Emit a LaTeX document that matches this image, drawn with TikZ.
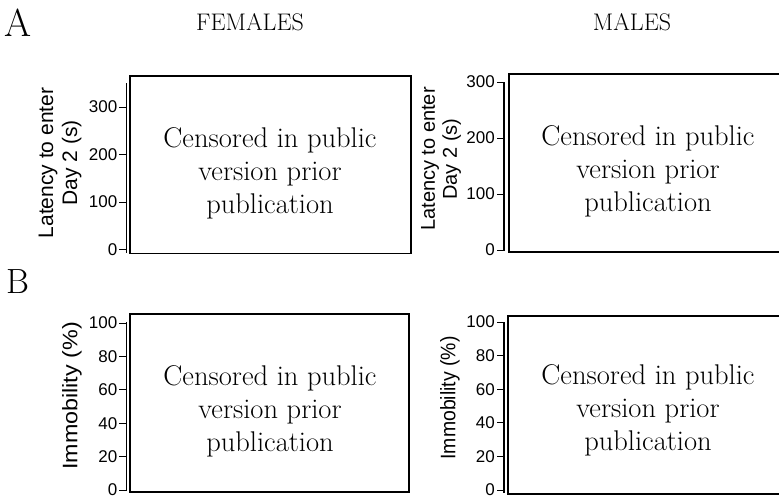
\documentclass[tikz,border=0pt]{standalone}
\usepackage{fontspec}
\newfontfamily\axisfont{Liberation Sans}
\begin{document}
\begin{tikzpicture}[x=1pt,y=-1pt,
  frame/.style={draw=black, line width=1.6pt, fill=none, inner sep=0pt, anchor=north west},
  axisline/.style={draw=black, line width=1.1pt},
  tickline/.style={draw=black, line width=0.9pt},
  ticklabel/.style={font=\axisfont\fontsize{17}{18}\selectfont, anchor=east, inner sep=0pt},
  ylabel/.style={rotate=90, align=center, inner sep=0pt},
  censor/.style={font=\fontsize{28.5}{33}\selectfont, align=center, inner sep=0pt},
  heading/.style={font=\fontsize{24}{26}\selectfont, inner sep=0pt, anchor=base},
  panel/.style={inner sep=0pt, anchor=base west}]
\clip (0,0) rectangle (779,496);
\fill[white] (0,0) rectangle (779,496);

% panel letters and column headings
\node[panel, font=\fontsize{39}{40}\selectfont] (lblA) at (4,36) {A};
\node[panel, font=\fontsize{35}{36}\selectfont] (lblB) at (6,293) {B};
\node[heading] (hF) at (250,30.5) {FEMALES};
\node[heading] (hM) at (632,30.5) {MALES};

% ---------- A, females ----------
\node[frame, minimum width=281pt, minimum height=177.5pt] (fa) at (129,75) {};
\coordinate (fa-top) at (126.5,83);
\coordinate (fa-bot) at (126.5,253);
\draw[axisline] (fa-top) -- (fa-bot);
\foreach \v in {0,100,200,300}{
  \pgfmathsetmacro\yy{249.5-0.475*\v}
  \draw[tickline] (119,\yy) -- (126.5,\yy);
  \node[ticklabel] (fa-t\v) at (117.5,\yy) {\v};
}
\node[ylabel, font=\axisfont\fontsize{21}{24}\selectfont] (fa-y) at (60,163) {Latency to enter\\Day 2 (s)};
\node[censor] (fa-c) at (270,173) {Censored in public\\version prior\\publication};

% ---------- A, males ----------
\node[frame, minimum width=290pt, minimum height=178pt] (ma) at (508,73) {};
\coordinate (ma-top) at (504,82);
\coordinate (ma-bot) at (504,251);
\draw[axisline] (ma-top) -- (ma-bot);
\foreach \v in {0,100,200,300}{
  \pgfmathsetmacro\yy{250-0.56*\v}
  \draw[tickline] (497,\yy) -- (504,\yy);
  \node[ticklabel] (ma-t\v) at (495,\yy) {\v};
}
\node[ylabel, font=\axisfont\fontsize{20}{22}\selectfont] (ma-y) at (441,159) {Latency to enter\\Day 2 (s)};
\node[censor] (ma-c) at (648,171) {Censored in public\\version prior\\publication};

% ---------- B, females ----------
\node[frame, minimum width=279pt, minimum height=178pt] (fb) at (129,313) {};
\coordinate (fb-top) at (126.5,322);
\coordinate (fb-bot) at (126.5,491);
\draw[axisline] (fb-top) -- (fb-bot);
\foreach \v in {0,20,40,60,80,100}{
  \pgfmathsetmacro\yy{490-1.67*\v}
  \draw[tickline] (119,\yy) -- (126.5,\yy);
  \node[ticklabel] (fb-t\v) at (117.5,\yy) {\v};
}
\node[ylabel, font=\axisfont\fontsize{21}{24}\selectfont] (fb-y) at (72,396) {\scalebox{1.11}[1]{Immobility (\%)}};
\node[censor] (fb-c) at (270,411) {Censored in public\\version prior\\publication};

% ---------- B, males ----------
\node[frame, minimum width=290pt, minimum height=178pt] (mb) at (507,315) {};
\coordinate (mb-top) at (504,322);
\coordinate (mb-bot) at (504,493);
\draw[axisline] (mb-top) -- (mb-bot);
\foreach \v in {0,20,40,60,80,100}{
  \pgfmathsetmacro\yy{490-1.68*\v}
  \draw[tickline] (497,\yy) -- (504,\yy);
  \node[ticklabel] (mb-t\v) at (495,\yy) {\v};
}
\node[ylabel, font=\axisfont\fontsize{21}{24}\selectfont] (mb-y) at (450,398) {\scalebox{0.925}[1]{Immobility (\%)}};
\node[censor] (mb-c) at (648,410) {Censored in public\\version prior\\publication};
\end{tikzpicture}
\end{document}
